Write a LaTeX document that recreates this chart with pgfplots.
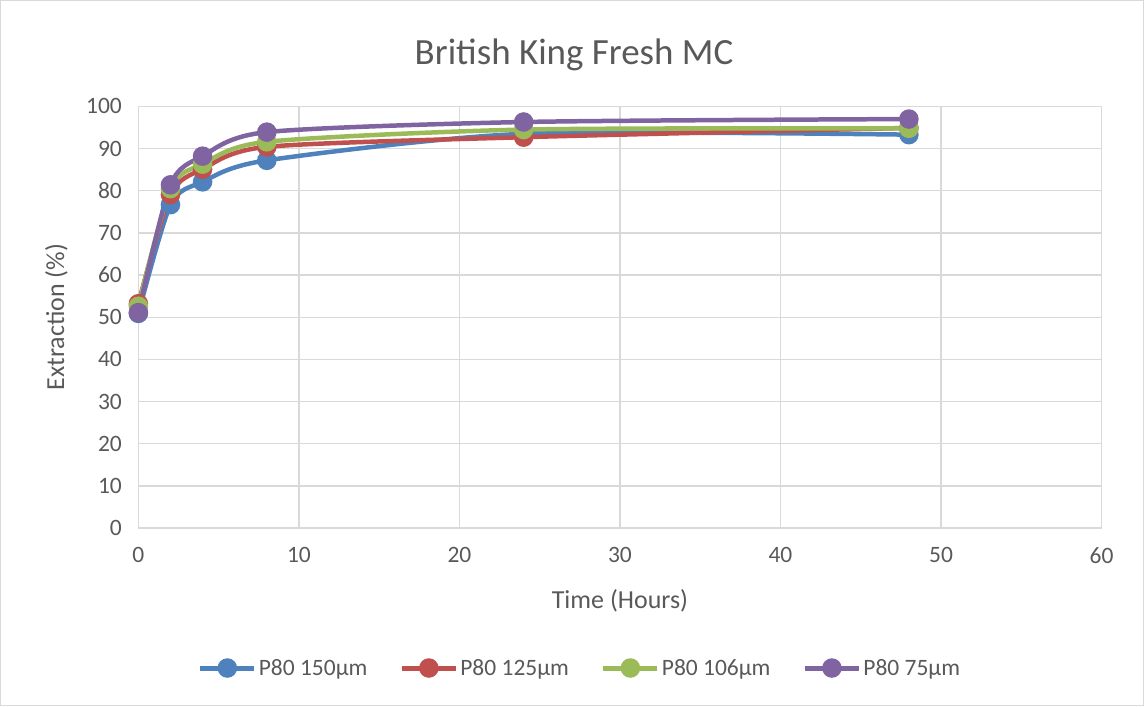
\documentclass[border=0pt]{standalone}
\usepackage{pgfplots}
\pgfplotsset{compat=1.18}
\usepackage{fontspec}
\setmainfont{Carlito}
\definecolor{txt}{RGB}{89,89,89}
\definecolor{gridc}{RGB}{217,217,217}
\definecolor{sblue}{RGB}{79,129,189}
\definecolor{sred}{RGB}{192,80,77}
\definecolor{sgreen}{RGB}{155,187,89}
\definecolor{spurple}{RGB}{128,100,162}
\begin{document}
\begin{tikzpicture}[x=1pt,y=1pt]
\path[use as bounding box, draw=gridc, line width=1pt] (0,0) rectangle (1144,706);
\node[text=txt, font=\fontsize{37}{40}\selectfont] at (574,652) {British King Fresh MC};
\begin{axis}[
    at={(138pt,178pt)}, anchor=south west,
    scale only axis, width=964pt, height=422pt,
    xmin=0, xmax=60, ymin=0, ymax=100,
    xtick={0,10,...,60}, ytick={0,10,...,100},
    grid=major, grid style={gridc, line width=1.3pt},
    axis x line*=bottom, axis y line*=left,
    x axis line style={gridc, line width=1.3pt, -},
    y axis line style={draw=none, -},
    tick style={draw=none},
    every tick label/.append style={text=txt, font=\fontsize{23.5}{26}\selectfont},
    xticklabel style={yshift=-16pt},
    yticklabel style={xshift=-13pt},
    /pgf/number format/assume math mode=true,
    xlabel={Time (Hours)}, ylabel={Extraction (\%)},
    label style={text=txt, font=\fontsize{26}{29}\selectfont},
    xlabel style={at={(axis description cs:0.5,-0.173)}, anchor=center},
    ylabel style={at={(axis description cs:-0.085,0.5)}, anchor=center},
    legend style={at={(0.4585,-0.332)}, anchor=center, draw=none, fill=none,
        legend columns=4, text=txt, font=\fontsize{23.5}{26}\selectfont,
        /tikz/every even column/.append style={column sep=30pt}},
    legend image code/.code={
        \draw[#1, mark=none, line width=5pt] (0pt,0pt) -- (54pt,0pt);
        \fill[#1] (27pt,0pt) circle (7.5pt);},
    clip=false,
]
\addplot[sblue, line width=4.5pt, smooth, tension=0.45, mark=*, mark size=7.5pt, mark options={fill=sblue, draw=sblue}]
coordinates {(0,50.9)(2,76.7)(4,82.1)(8,87.2)(24,93.5)(48,93.3)};
\addlegendentry{P80 150µm}
\addplot[sred, line width=4.5pt, smooth, tension=0.45, mark=*, mark size=7.5pt, mark options={fill=sred, draw=sred}]
coordinates {(0,53.2)(2,79.1)(4,85.1)(8,90.4)(24,92.7)(48,94.9)};
\addlegendentry{P80 125µm}
\addplot[sgreen, line width=4.5pt, smooth, tension=0.45, mark=*, mark size=7.5pt, mark options={fill=sgreen, draw=sgreen}]
coordinates {(0,52.6)(2,80.5)(4,86.3)(8,91.6)(24,94.5)(48,94.8)};
\addlegendentry{P80 106µm}
\addplot[spurple, line width=4.5pt, smooth, tension=0.45, mark=*, mark size=7.5pt, mark options={fill=spurple, draw=spurple}]
coordinates {(0,51.1)(2,81.4)(4,88.2)(8,93.9)(24,96.3)(48,97.0)};
\addlegendentry{P80 75µm}
\end{axis}
\end{tikzpicture}
\end{document}
